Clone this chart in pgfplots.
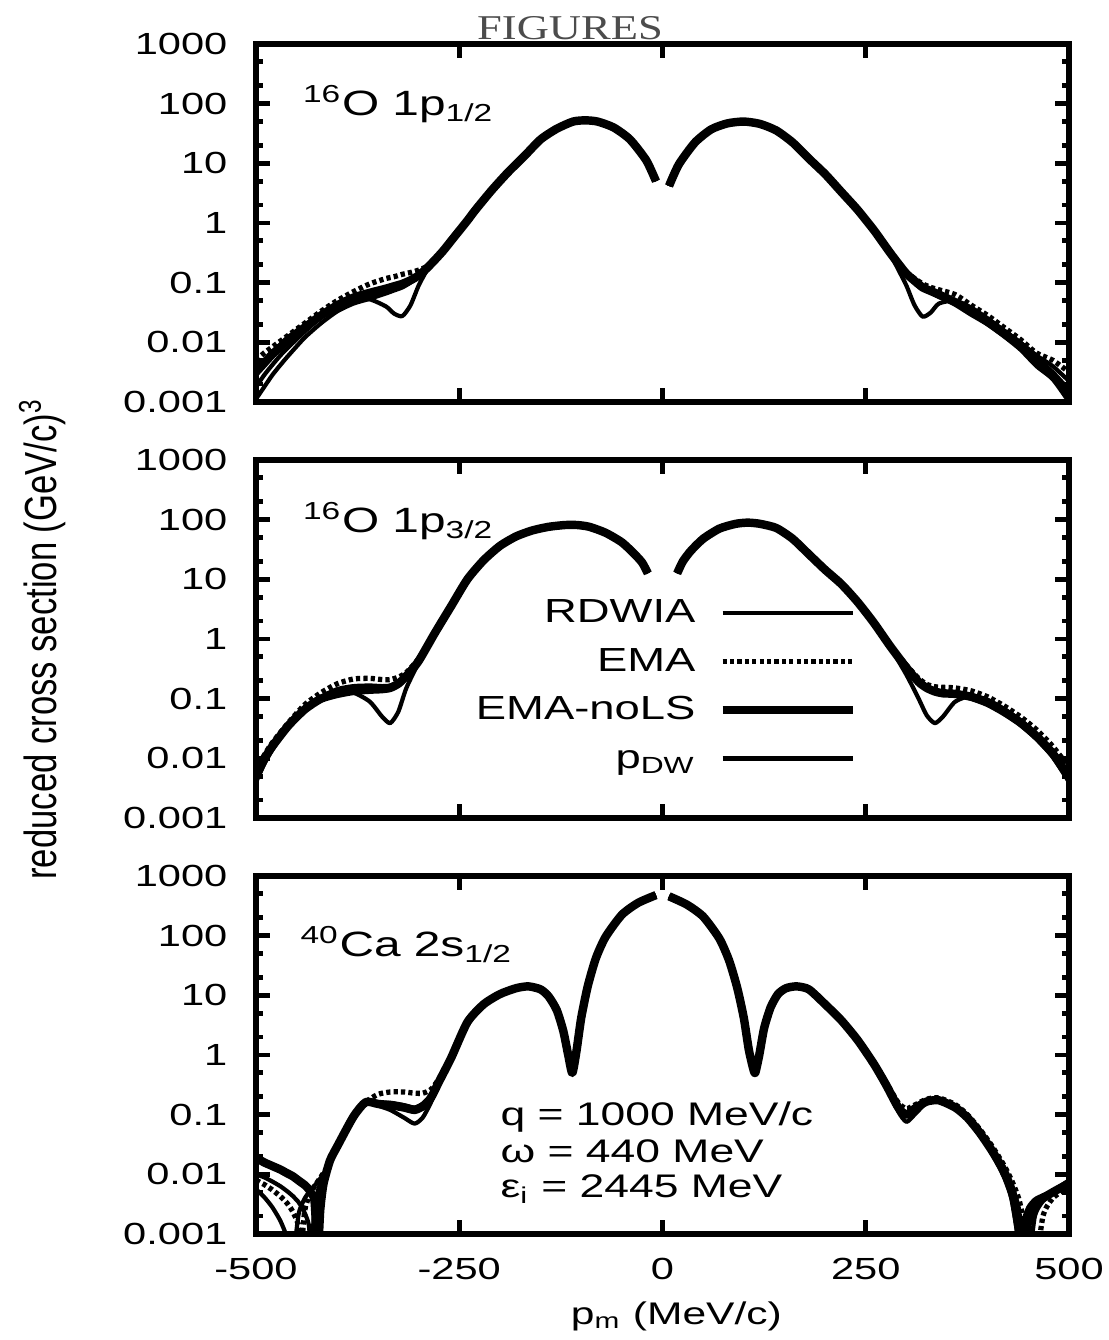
\documentclass[border=0pt]{standalone}
\usepackage{fontspec}
\setmainfont{Liberation Sans}[FakeStretch=1.36]
\newfontfamily\ylabfont{Liberation Sans}[FakeStretch=0.77]
\newfontfamily\titlefont{Liberation Serif}[FakeStretch=1.28]
\usepackage{pgfplots}
\usepackage{pgfplotstable}
\pgfplotsset{compat=1.18}

% columns: x  EMA-noLS  RDWIA  EMA  pDW
\pgfplotstableread{
x nols rd ema pdw
-500 3.162e-3 1.778e-3 5.012e-3 1.122e-3
-490 4.467e-3 2.818e-3 6.607e-3 1.778e-3
-480 6.310e-3 4.169e-3 8.318e-3 2.818e-3
-470 8.318e-3 6.026e-3 1.047e-2 4.169e-3
-460 1.122e-2 8.318e-3 1.318e-2 6.026e-3
-440 1.778e-2 1.514e-2 2.089e-2 1.202e-2
-420 2.818e-2 2.630e-2 3.311e-2 2.089e-2
-400 4.169e-2 3.981e-2 5.012e-2 3.311e-2
-380 5.623e-2 5.248e-2 7.079e-2 4.467e-2
-360 6.761e-2 5.248e-2 9.550e-2 5.370e-2
-340 7.943e-2 3.981e-2 1.175e-1 6.607e-2
-330 8.710e-2 3.020e-2 1.259e-1 7.413e-2
-320 9.550e-2 2.754e-2 1.380e-1 8.318e-2
-310 1.096e-1 4.169e-2 1.479e-1 1.000e-1
-300 1.318e-1 8.913e-2 1.622e-1 1.259e-1
-290 1.738e-1 1.585e-1 1.862e-1 1.698e-1
-280 2.399e-1 2.344e-1 2.455e-1 2.399e-1
-270 3.388e-1 3.388e-1 3.388e-1 3.388e-1
-260 5.012e-1 5.012e-1 5.012e-1 5.012e-1
-250 7.413e-1 7.413e-1 7.413e-1 7.413e-1
-240 1.096 1.096 1.096 1.096
-230 1.660 1.660 1.660 1.660
-210 3.548 3.548 3.548 3.548
-190 7.079 7.079 7.079 7.079
-170 13.18 13.18 13.18 13.18
-150 25.12 25.12 25.12 25.12
-130 38.02 38.02 38.02 38.02
-110 50.12 50.12 50.12 50.12
-95 52.48 52.48 52.48 52.48
-80 50.12 50.12 50.12 50.12
-60 39.81 39.81 39.81 39.81
-40 25.12 25.12 25.12 25.12
-20 11.22 11.22 11.22 11.22
-8 5.012 5.012 5.012 5.012
0 nan nan nan nan
8 4.169 4.169 4.169 4.169
20 9.550 9.550 9.550 9.550
40 22.39 22.39 22.39 22.39
60 37.15 37.15 37.15 37.15
80 46.77 46.77 46.77 46.77
100 50.12 50.12 50.12 50.12
120 45.71 45.71 45.71 45.71
140 35.48 35.48 35.48 35.48
160 22.39 22.39 22.39 22.39
180 12.02 12.02 12.02 12.02
200 6.607 6.607 6.607 6.607
220 3.311 3.311 3.311 3.311
240 1.660 1.660 1.660 1.660
260 7.586e-1 7.586e-1 7.586e-1 7.586e-1
270 4.898e-1 4.898e-1 4.898e-1 4.898e-1
280 3.162e-1 3.020e-1 3.311e-1 3.162e-1
290 2.089e-1 1.660e-1 2.188e-1 1.995e-1
300 1.413e-1 8.913e-2 1.514e-1 1.318e-1
310 1.072e-1 4.169e-2 1.175e-1 1.000e-1
320 8.318e-2 2.692e-2 9.550e-2 7.943e-2
330 7.244e-2 3.162e-2 8.318e-2 6.761e-2
340 6.310e-2 4.467e-2 7.586e-2 5.754e-2
360 4.677e-2 5.012e-2 6.310e-2 4.365e-2
380 3.162e-2 3.802e-2 4.169e-2 3.020e-2
400 2.188e-2 2.512e-2 2.818e-2 1.995e-2
420 1.413e-2 1.585e-2 1.778e-2 1.259e-2
440 8.913e-3 1.000e-2 1.122e-2 7.586e-3
460 5.012e-3 6.026e-3 6.607e-3 3.981e-3
480 2.818e-3 3.981e-3 5.012e-3 2.399e-3
500 1.413e-3 2.239e-3 3.162e-3 1.000e-3
}\tabA

\pgfplotstableread{
x nols rd ema pdw
-500 5.012e-3 3.981e-3 6.310e-3 4.467e-3
-490 9.550e-3 7.943e-3 1.122e-2 8.710e-3
-480 1.585e-2 1.380e-2 1.820e-2 1.479e-2
-460 3.548e-2 3.311e-2 3.981e-2 3.388e-2
-440 6.607e-2 6.310e-2 7.943e-2 6.918e-2
-420 1.000e-1 1.000e-1 1.259e-1 1.072e-1
-400 1.202e-1 1.318e-1 1.778e-1 1.445e-1
-380 1.349e-1 1.259e-1 2.138e-1 1.622e-1
-360 1.413e-1 8.913e-2 2.188e-1 1.660e-1
-345 1.445e-1 5.012e-2 2.089e-1 1.622e-1
-335 1.514e-1 3.890e-2 2.089e-1 1.660e-1
-325 1.778e-1 6.026e-2 2.291e-1 1.905e-1
-315 2.399e-1 1.514e-1 2.754e-1 2.512e-1
-300 4.266e-1 3.981e-1 4.677e-1 4.365e-1
-280 1.259 1.202 1.318 1.259
-260 3.548 3.548 3.548 3.548
-240 10.00 10.00 10.00 10.00
-220 20.89 20.89 20.89 20.89
-200 36.31 36.31 36.31 36.31
-180 52.48 52.48 52.48 52.48
-160 66.07 66.07 66.07 66.07
-140 75.86 75.86 75.86 75.86
-120 81.28 81.28 81.28 81.28
-105 81.28 81.28 81.28 81.28
-90 75.86 75.86 75.86 75.86
-70 60.26 60.26 60.26 60.26
-50 41.69 41.69 41.69 41.69
-35 26.92 26.92 26.92 26.92
-25 19.05 19.05 19.05 19.05
-18 12.59 12.59 12.59 12.59
0 nan nan nan nan
18 12.59 12.59 12.59 12.59
25 19.95 19.95 19.95 19.95
35 30.20 30.20 30.20 30.20
50 47.86 47.86 47.86 47.86
70 70.79 70.79 70.79 70.79
90 85.11 85.11 85.11 85.11
105 89.13 89.13 89.13 89.13
120 85.11 85.11 85.11 85.11
140 72.44 72.44 72.44 72.44
160 47.86 47.86 47.86 47.86
180 26.30 26.30 26.30 26.30
200 14.45 14.45 14.45 14.45
220 8.318 8.318 8.318 8.318
240 4.169 4.169 4.169 4.169
260 1.862 1.862 1.862 1.862
280 7.586e-1 7.244e-1 7.943e-1 7.586e-1
300 3.311e-1 2.512e-1 3.631e-1 3.162e-1
315 1.905e-1 1.000e-1 2.188e-1 1.820e-1
325 1.514e-1 5.248e-2 1.738e-1 1.445e-1
335 1.318e-1 3.890e-2 1.585e-1 1.259e-1
345 1.230e-1 5.012e-2 1.549e-1 1.202e-1
360 1.202e-1 8.913e-2 1.514e-1 1.148e-1
380 1.072e-1 1.122e-1 1.349e-1 1.000e-1
400 8.511e-2 9.550e-2 1.072e-1 7.943e-2
420 6.026e-2 6.761e-2 7.586e-2 5.623e-2
440 3.981e-2 4.365e-2 5.012e-2 3.631e-2
460 2.344e-2 2.512e-2 3.020e-2 2.089e-2
480 1.202e-2 1.318e-2 1.585e-2 1.047e-2
500 4.786e-3 5.623e-3 7.079e-3 3.981e-3
}\tabB

\pgfplotstableread{
x nols rd ema pdw
-500 1.905e-2 1.000e-2 7.943e-3 5.623e-3
-490 1.585e-2 8.913e-3 6.761e-3 4.169e-3
-480 1.380e-2 7.586e-3 5.495e-3 2.818e-3
-470 1.202e-2 6.310e-3 4.266e-3 1.660e-3
-462 1.047e-2 5.248e-3 3.311e-3 8.913e-4
-455 9.333e-3 4.365e-3 2.399e-3 3.981e-4
-448 7.943e-3 3.467e-3 1.413e-3 1.995e-3
-445 7.413e-3 3.020e-3 5.012e-4 2.818e-3
-440 6.607e-3 2.239e-3 2.512e-3 3.981e-3
-435 5.623e-3 1.413e-3 4.169e-3 5.012e-3
-432 4.786e-3 5.012e-4 5.012e-3 5.623e-3
-428 3.548e-3 2.818e-3 6.310e-3 6.457e-3
-424 5.012e-4 5.248e-3 7.586e-3 7.586e-3
-421 2.512e-3 7.079e-3 8.710e-3 8.511e-3
-417 6.918e-3 9.550e-3 1.047e-2 1.000e-2
-409 1.698e-2 1.660e-2 1.585e-2 1.585e-2
-400 2.951e-2 2.951e-2 2.951e-2 2.951e-2
-380 9.333e-2 9.333e-2 9.333e-2 9.333e-2
-365 1.622e-1 1.622e-1 1.622e-1 1.622e-1
-350 1.514e-1 1.413e-1 2.188e-1 1.585e-1
-335 1.445e-1 1.202e-1 2.399e-1 1.585e-1
-318 1.318e-1 8.913e-2 2.399e-1 1.445e-1
-305 1.202e-1 7.079e-2 2.291e-1 1.318e-1
-295 1.380e-1 8.913e-2 2.291e-1 1.514e-1
-285 1.905e-1 1.585e-1 2.630e-1 1.995e-1
-275 3.548e-1 3.388e-1 3.981e-1 3.548e-1
-260 8.913e-1 8.913e-1 8.913e-1 8.913e-1
-240 3.548 3.548 3.548 3.548
-220 7.079 7.079 7.079 7.079
-200 10.47 10.47 10.47 10.47
-180 13.18 13.18 13.18 13.18
-165 14.13 14.13 14.13 14.13
-150 12.59 12.59 12.59 12.59
-140 9.550 9.550 9.550 9.550
-130 5.623 5.623 5.623 5.623
-122 2.512 2.512 2.512 2.512
-116 1.000 1.000 1.000 1.000
-111 5.012e-1 5.012e-1 5.012e-1 5.012e-1
-106 1.122 1.122 1.122 1.122
-100 4.169 4.169 4.169 4.169
-92 14.13 14.13 14.13 14.13
-82 41.69 41.69 41.69 41.69
-70 95.50 95.50 95.50 95.50
-50 223.9 223.9 223.9 223.9
-30 354.8 354.8 354.8 354.8
-8 478.6 478.6 478.6 478.6
0 nan nan nan nan
8 457.1 457.1 457.1 457.1
30 331.1 331.1 331.1 331.1
50 208.9 208.9 208.9 208.9
70 89.13 89.13 89.13 89.13
82 38.02 38.02 38.02 38.02
92 13.18 13.18 13.18 13.18
100 4.169 4.169 4.169 4.169
106 1.259 1.259 1.259 1.259
111 6.310e-1 6.310e-1 6.310e-1 6.310e-1
114 5.012e-1 5.012e-1 5.012e-1 5.012e-1
119 1.000 1.000 1.000 1.000
125 2.818 2.818 2.818 2.818
133 6.310 6.310 6.310 6.310
142 10.47 10.47 10.47 10.47
152 13.18 13.18 13.18 13.18
165 14.13 14.13 14.13 14.13
180 12.59 12.59 12.59 12.59
200 7.079 7.079 7.079 7.079
220 3.802 3.802 3.802 3.802
240 1.778 1.778 1.778 1.778
260 7.079e-1 7.079e-1 7.413e-1 6.918e-1
275 3.162e-1 3.020e-1 3.467e-1 3.020e-1
290 1.318e-1 1.122e-1 1.585e-1 1.259e-1
300 1.000e-1 7.586e-2 1.259e-1 9.550e-2
310 1.259e-1 1.000e-1 1.445e-1 1.202e-1
325 1.660e-1 1.585e-1 1.820e-1 1.622e-1
340 1.738e-1 1.738e-1 1.905e-1 1.698e-1
360 1.318e-1 1.380e-1 1.479e-1 1.259e-1
375 8.913e-2 9.550e-2 1.000e-1 8.318e-2
390 5.012e-2 5.370e-2 5.754e-2 4.571e-2
405 2.512e-2 2.754e-2 3.020e-2 2.239e-2
420 1.122e-2 1.259e-2 1.413e-2 8.913e-3
430 5.012e-3 6.310e-3 7.586e-3 3.548e-3
438 1.259e-3 2.818e-3 3.981e-3 7.943e-4
443 3.162e-4 7.943e-4 1.995e-3 1.585e-3
450 1.778e-3 3.162e-4 6.310e-4 2.818e-3
458 3.162e-3 1.995e-3 2.512e-4 3.802e-3
468 3.981e-3 3.548e-3 1.995e-3 4.467e-3
480 5.012e-3 4.786e-3 3.981e-3 5.248e-3
500 7.079e-3 6.607e-3 6.310e-3 7.943e-3
}\tabC

\begin{document}
\begin{tikzpicture}
\pgfplotsset{
  every axis/.append style={
    scale only axis, width=81.3mm, height=35.8mm, anchor=south west,
    xmin=-500, xmax=500, ymin=1e-3, ymax=1e3,
    axis on top=true,
    axis line style={line width=1.6pt},
    tick style={line width=1.4pt, black},
    major tick length=1.4mm, minor tick length=0.7mm,
    tick align=inside,
    xtick={-500,-250,0,250,500},
    ytick={1e-3,1e-2,1e-1,1,10,100,1000},
    yticklabels={0.001,0.01,0.1,1,10,100,1000},
    minor ytick={2e-3,5e-3,2e-2,5e-2,0.2,0.5,2,5,20,50,200,500},
    tick label style={font=\fontsize{8.7}{10}\selectfont, inner sep=0pt},
    yticklabel style={anchor=east, xshift=-2.8mm},
    xticklabel style={anchor=north, yshift=-2.3mm},
    unbounded coords=jump,
  },
  rdS/.style={black, line width=1.2pt, smooth, tension=0.4, line join=round},
  emaS/.style={black, line width=1.5pt, dash pattern=on 1.2pt off 0.9pt, smooth, tension=0.4, line join=round},
  nolsS/.style={black, line width=2.4pt, smooth, tension=0.4, line join=round},
  pdwS/.style={black, line width=1.2pt, smooth, tension=0.4, line join=round},
}
\path (0,0) rectangle (110.8mm,134mm);
\node[anchor=base, font=\titlefont\fontsize{9.9}{12}\selectfont, text=black!70, inner sep=0pt] at (57.0mm,130.0mm) {FIGURES};

% ---- panel 1 ----
\begin{axis}[ymode=log, at={(25.6mm,93.8mm)}, xticklabels={}]
\addplot[nolsS] table[x=x,y=nols]{\tabA};
\addplot[rdS] table[x=x,y=rd]{\tabA};
\addplot[emaS] table[x=x,y=ema]{\tabA};
\addplot[pdwS] table[x=x,y=pdw]{\tabA};
\node[anchor=base west, font=\fontsize{10}{12}\selectfont, inner sep=0pt] at (axis description cs:0.057,0.80) {\textsuperscript{16}O 1p\textsubscript{1/2}};
\end{axis}

% ---- panel 2 ----
\begin{axis}[ymode=log, at={(25.6mm,52.2mm)}, xticklabels={},
  ylabel={reduced cross section (GeV/c)\textsuperscript{3}},
  ylabel style={font=\ylabfont\fontsize{12.8}{14}\selectfont, at={(axis description cs:-0.263,0.5)}, anchor=center, inner sep=0pt},
  legend style={draw=none, fill=none, inner sep=0pt, at={(axis description cs:0.740,0.616)}, anchor=north east,
    font=\fontsize{9.5}{11}\selectfont, row sep=1.9mm, column sep=2.3mm,
    nodes={inner sep=0pt, text height=2.45mm, text depth=0.5mm}},
  legend cell align=right,
  legend plot pos=right,
  legend image code/.code={\draw[#1] (0mm,0mm) -- (13mm,0mm);},
]
\addplot[rdS] table[x=x,y=rd]{\tabB};
\addlegendentry{RDWIA}
\addplot[emaS] table[x=x,y=ema]{\tabB};
\addlegendentry{EMA}
\addplot[nolsS] table[x=x,y=nols]{\tabB};
\addlegendentry{EMA-noLS}
\addplot[pdwS] table[x=x,y=pdw]{\tabB};
\addlegendentry{p\textsubscript{DW}}
\node[anchor=base west, font=\fontsize{10}{12}\selectfont, inner sep=0pt] at (axis description cs:0.057,0.798) {\textsuperscript{16}O 1p\textsubscript{3/2}};
\end{axis}

% ---- panel 3 ----
\begin{axis}[ymode=log, at={(25.6mm,10.6mm)},
  xticklabels={-500,-250,0,250,500},
  xlabel={p\textsubscript{m} (MeV/c)},
  xlabel style={font=\fontsize{8.9}{10}\selectfont, at={(axis description cs:0.517,0)}, anchor=base, yshift=-9.1mm, inner sep=0pt},
]
\addplot[nolsS] table[x=x,y=nols]{\tabC};
\addplot[rdS] table[x=x,y=rd]{\tabC};
\addplot[emaS] table[x=x,y=ema]{\tabC};
\addplot[pdwS] table[x=x,y=pdw]{\tabC};
\node[anchor=base west, font=\fontsize{10}{12}\selectfont, inner sep=0pt] at (axis description cs:0.054,0.775) {\textsuperscript{40}Ca 2s\textsubscript{1/2}};
\node[anchor=base west, font=\fontsize{9.3}{11}\selectfont, inner sep=0pt] at (axis description cs:0.300,0.302) {q = 1000 MeV/c};
\node[anchor=base west, font=\fontsize{9.3}{11}\selectfont, inner sep=0pt] at (axis description cs:0.300,0.201) {ω = 440 MeV};
\node[anchor=base west, font=\fontsize{9.3}{11}\selectfont, inner sep=0pt] at (axis description cs:0.300,0.101) {ε\textsubscript{i} = 2445 MeV};
\end{axis}
\end{tikzpicture}
\end{document}
